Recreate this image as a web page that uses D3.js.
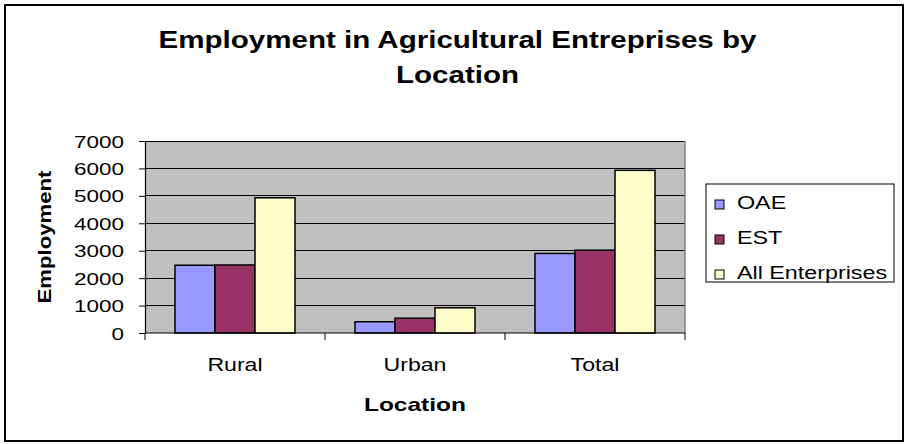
<!DOCTYPE html>
<html>
<head>
<meta charset="utf-8">
<script src="https://cdn.jsdelivr.net/npm/d3@7"></script>
<style>
  html, body { margin: 0; padding: 0; background: #fff; }
  svg { display: block; }
  text { font-family: "Liberation Sans", Arial, sans-serif; fill: #000; }
</style>
</head>
<body>
<svg id="chart" width="907" height="444"></svg>
<script>
// ---- data ----
const categories = ["Rural", "Urban", "Total"];
const seriesNames = ["OAE", "EST", "All Enterprises"];
const oaeValues = [2470, 410, 2900];
const estValues = [2480, 540, 3020];
const allValues = [4930, 920, 5930];
const yTicks = [0, 1000, 2000, 3000, 4000, 5000, 6000, 7000];
const titleLines = ["Employment in Agricultural Entreprises by", "Location"];
const xTitle = "Location";
const yTitle = "Employment";

const seriesValues = [oaeValues, estValues, allValues];
const colors = ["#9999FF", "#993366", "#FFFFCC"];

const svg = d3.select("#chart");
const W = 907, H = 444;
const plot = { left: 145, right: 685, top: 141, bottom: 333 };

// horizontal stretch helper (reference text is horizontally widened)
function stretch(sel, sx) {
  sel.each(function () {
    const w = this.getComputedTextLength();
    d3.select(this).attr("textLength", w * sx).attr("lengthAdjust", "spacingAndGlyphs");
  });
}

// outer frame
svg.append("rect").attr("x", 5).attr("y", 5).attr("width", 898).attr("height", 436)
  .attr("fill", "#fff").attr("stroke", "#000").attr("stroke-width", 2);

// title
const title = svg.append("g");
titleLines.forEach((t, i) => {
  title.append("text").attr("x", 457.5).attr("y", 48 + i * 35)
    .attr("text-anchor", "middle").attr("font-size", 23).attr("font-weight", "bold")
    .text(t);
});
stretch(title.selectAll("text"), 1.284);

// scales
const x0 = d3.scaleBand().domain(categories).range([plot.left, plot.right])
  .paddingInner(1 / 3).paddingOuter(1 / 6);
const x1 = d3.scaleBand().domain(seriesNames).range([0, x0.bandwidth()]).padding(0);
const y = d3.scaleLinear().domain([0, 7000]).range([plot.bottom, plot.top]);

// plot background
svg.append("rect").attr("x", plot.left).attr("y", plot.top)
  .attr("width", plot.right - plot.left).attr("height", plot.bottom - plot.top)
  .attr("fill", "#C0C0C0");

// gridlines
svg.append("g").selectAll("line").data(yTicks.filter(d => d > 0)).join("line")
  .attr("x1", plot.left).attr("x2", plot.right)
  .attr("y1", d => y(d)).attr("y2", d => y(d))
  .attr("stroke", "#000").attr("stroke-width", 1).attr("shape-rendering", "crispEdges");

// right border of plot
svg.append("line").attr("x1", plot.right).attr("x2", plot.right)
  .attr("y1", plot.top).attr("y2", plot.bottom)
  .attr("stroke", "#808080").attr("stroke-width", 1.5);

// bars
const groups = svg.append("g").selectAll("g").data(categories).join("g")
  .attr("transform", d => `translate(${x0(d)},0)`);
groups.selectAll("rect")
  .data((c, ci) => seriesNames.map((s, si) => ({ s, si, v: seriesValues[si][ci] })))
  .join("rect")
  .attr("x", d => x1(d.s)).attr("width", x1.bandwidth())
  .attr("y", d => y(d.v)).attr("height", d => y(0) - y(d.v))
  .attr("fill", d => colors[d.si]).attr("stroke", "#000").attr("stroke-width", 1.5);

// y axis
const yAxis = svg.append("g").attr("transform", `translate(${plot.left},0)`)
  .call(d3.axisLeft(y).tickValues(yTicks).tickSize(6).tickPadding(15).tickFormat(d3.format("d")));
yAxis.select(".domain").attr("stroke", "#000").attr("stroke-width", 1.2);
yAxis.selectAll(".tick line").attr("stroke", "#000");
yAxis.selectAll("text").attr("font-size", 17).attr("font-family", "Liberation Sans, Arial, sans-serif")
  .attr("fill", "#000").attr("dy", "0.36em");
stretch(yAxis.selectAll("text"), 1.32);

// x axis
const xAxis = svg.append("g").attr("transform", `translate(0,${plot.bottom})`);
xAxis.append("line").attr("x1", plot.left).attr("x2", plot.right).attr("y1", 0).attr("y2", 0)
  .attr("stroke", "#000").attr("stroke-width", 1.2);
const boundaries = categories.map(c => x0(c) - x0.step() * x0.paddingOuter()).concat([plot.right]);
xAxis.selectAll("line.tk").data(boundaries).join("line").attr("class", "tk")
  .attr("x1", d => d).attr("x2", d => d).attr("y1", 0).attr("y2", 7)
  .attr("stroke", "#000");
xAxis.selectAll("text").data(categories).join("text")
  .attr("x", d => x0(d) + x0.bandwidth() / 2).attr("y", 38)
  .attr("text-anchor", "middle").attr("font-size", 17.5).text(d => d);
stretch(xAxis.selectAll("text"), 1.32);

// axis titles
const xt = svg.append("text").attr("x", (plot.left + plot.right) / 2).attr("y", 411)
  .attr("text-anchor", "middle").attr("font-size", 19).attr("font-weight", "bold").text(xTitle);
stretch(xt, 1.29);
const yt = svg.append("text").attr("transform", `translate(51,${(plot.top + plot.bottom) / 2 + 0}) rotate(-90)`)
  .attr("text-anchor", "middle").attr("font-size", 18).attr("font-weight", "bold").text(yTitle);
yt.attr("textLength", 133).attr("lengthAdjust", "spacingAndGlyphs");

// legend
const lg = svg.append("g");
lg.append("rect").attr("x", 706).attr("y", 184).attr("width", 188).attr("height", 98)
  .attr("fill", "#fff").attr("stroke", "#000").attr("stroke-width", 1);
const items = lg.selectAll("g.item").data(seriesNames).join("g").attr("class", "item")
  .attr("transform", (d, i) => `translate(715,${209 + i * 35})`);
items.append("rect").attr("x", 0).attr("y", -9).attr("width", 9).attr("height", 9)
  .attr("fill", (d, i) => colors[i]).attr("stroke", "#000").attr("stroke-width", 1);
items.append("text").attr("x", 22).attr("y", 0).attr("font-size", 17.5).text(d => d);
stretch(items.selectAll("text"), 1.33);
</script>
</body>
</html>
